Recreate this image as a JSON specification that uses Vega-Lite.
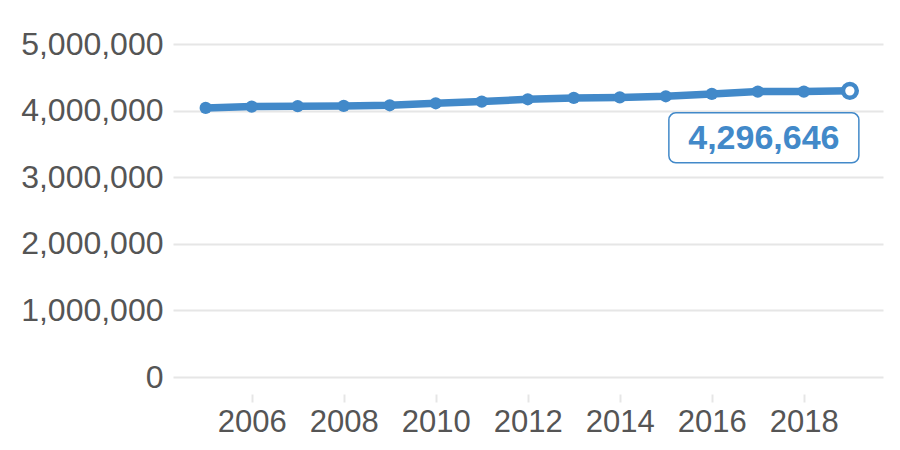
{
  "$schema": "https://vega.github.io/schema/vega-lite/v6.json",
  "width": 710,
  "height": 333,
  "autosize": {"type": "none"},
  "padding": {"left": 173, "top": 44, "right": 17, "bottom": 73},
  "background": "white",
  "config": {"view": {"stroke": null}, "font": "Liberation Sans"},
  "data": {
    "values": [
      {"year": 2005, "value": 4040000},
      {"year": 2006, "value": 4060000},
      {"year": 2007, "value": 4066000},
      {"year": 2008, "value": 4070000},
      {"year": 2009, "value": 4080000},
      {"year": 2010, "value": 4110000},
      {"year": 2011, "value": 4135000},
      {"year": 2012, "value": 4170000},
      {"year": 2013, "value": 4190000},
      {"year": 2014, "value": 4198000},
      {"year": 2015, "value": 4215000},
      {"year": 2016, "value": 4250000},
      {"year": 2017, "value": 4285000},
      {"year": 2018, "value": 4286000},
      {"year": 2019, "value": 4296646}
    ]
  },
  "encoding": {
    "x": {
      "field": "year",
      "type": "quantitative",
      "scale": {"domain": [2004.29, 2019.72], "nice": false, "zero": false},
      "axis": {
        "title": null,
        "values": [2006, 2008, 2010, 2012, 2014, 2016, 2018],
        "format": "d",
        "grid": false,
        "domain": false,
        "offset": 17,
        "tickColor": "#e6e6e6",
        "tickSize": 8,
        "tickWidth": 2,
        "labelPadding": 5,
        "labelFontSize": 31,
        "labelColor": "#555555"
      }
    },
    "y": {
      "field": "value",
      "type": "quantitative",
      "scale": {"domain": [0, 5000000], "nice": false},
      "axis": {
        "title": null,
        "values": [0, 1000000, 2000000, 3000000, 4000000, 5000000],
        "format": ",d",
        "grid": true,
        "gridColor": "#e6e6e6",
        "gridWidth": 2,
        "domain": false,
        "ticks": false,
        "labelPadding": 10,
        "labelFontSize": 32,
        "labelColor": "#555555"
      }
    }
  },
  "layer": [
    {"mark": {"type": "line", "color": "#4289c9", "strokeWidth": 7.5}},
    {"mark": {"type": "point", "filled": true, "color": "#4289c9", "size": 150, "opacity": 1}},
    {
      "transform": [{"filter": "datum.year == 2019"}],
      "mark": {"type": "point", "filled": true, "fill": "white", "stroke": "#4289c9", "strokeWidth": 4.5, "size": 190, "opacity": 1}
    },
    {
      "transform": [{"filter": "datum.year == 2019"}],
      "mark": {"type": "rect", "width": 190, "height": 50, "cornerRadius": 7, "fill": "white", "stroke": "#4289c9", "strokeWidth": 1.5, "xOffset": -86, "yOffset": 47}
    },
    {
      "transform": [{"filter": "datum.year == 2019"}],
      "mark": {"type": "text", "fontWeight": "bold", "fontSize": 34, "color": "#4289c9", "xOffset": -86, "yOffset": 48, "baseline": "middle", "align": "center"},
      "encoding": {"text": {"field": "value", "type": "quantitative", "format": ",d"}}
    }
  ]
}
